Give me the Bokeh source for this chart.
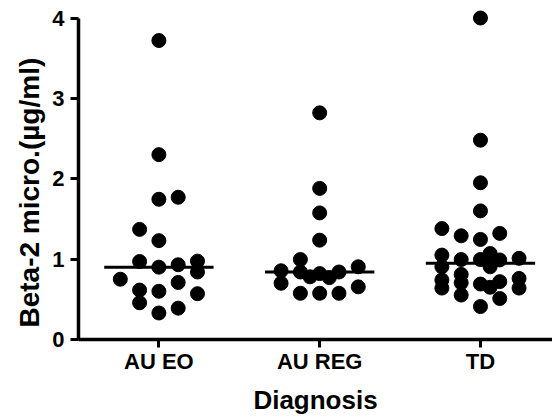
import numpy as np
from bokeh.plotting import figure
from bokeh.models import FixedTicker, Range1d, Title
from bokeh.embed import file_html
from bokeh.resources import INLINE

categories = ["AU EO", "AU REG", "TD"]

au_eo_values = [3.72, 2.30, 1.745, 1.77, 1.37, 1.23, 0.97, 0.90, 0.93, 0.975,
                0.84, 0.75, 0.71, 0.615, 0.60, 0.57, 0.457, 0.39, 0.33]
au_eo_slots = [0, 0, 0, 1, -1, 0, -1, 0, 1, 2,
               2, -2, 1, -1, 0, 2, -1, 1, 0]

au_reg_values = [2.82, 1.88, 1.575, 1.236, 0.995, 0.855, 0.84, 0.78, 0.82,
                 0.77, 0.84, 0.905, 0.70, 0.655, 0.575, 0.575, 0.575]
au_reg_slots = [0, 0, 0, 0, -1, -2, -1, -0.5, 0,
                0.5, 1, 2, -2, 2, -1, 0, 1]

td_values = [4.0, 2.48, 1.95, 1.60, 1.38, 1.29, 1.245, 1.32, 1.05, 1.07,
             0.995, 0.995, 0.99, 1.01, 0.905, 0.905, 0.81, 0.74, 0.705, 0.69,
             0.72, 0.76, 0.65, 0.64, 0.64, 0.553, 0.51, 0.41]
td_slots = [0, 0, 0, 0, -2, -1, 0, 1, -2, 0.5,
            -1, 0, 1, 2, -2, 0.5, -1, -2, -1, 0,
            1, 2, 0.5, -2, 2, -1, 1, 0]

y_ticks = [0, 1, 2, 3, 4]
y_label = "Beta-2 micro.(µg/ml)"
x_label = "Diagnosis"

groups = [(au_eo_values, au_eo_slots), (au_reg_values, au_reg_slots), (td_values, td_slots)]
SLOT = 0.12
HALF = 0.34

xs, ys = [], []
mx0, mx1, my = [], [], []
for i, (vals, slots) in enumerate(groups):
    c = i + 1
    for v, s in zip(vals, slots):
        xs.append(c + s * SLOT)
        ys.append(v)
    med = float(np.median(vals))
    mx0.append(c - HALF)
    mx1.append(c + HALF)
    my.append(med)

FONT = "Liberation Sans"

p = figure(width=552, height=417, output_backend="svg", toolbar_location=None,
           x_range=Range1d(0.5, 3.448), y_range=Range1d(0, 4.193),
           min_border_left=78, min_border_right=0, min_border_top=2, min_border_bottom=78)
p.background_fill_color = "white"
p.border_fill_color = "white"
p.outline_line_color = None
p.xgrid.visible = False
p.ygrid.visible = False

p.scatter(x=xs, y=ys, size=14, color="black")
p.segment(x0=mx0, x1=mx1, y0=my, y1=my, line_width=3, line_color="black")

for ax in (p.yaxis[0], p.xaxis[0]):
    ax.axis_line_width = 3.5
    ax.axis_line_color = "black"
    ax.major_tick_line_width = 3
    ax.major_tick_line_color = "black"
    ax.major_tick_out = 8
    ax.major_tick_in = 0
    ax.minor_tick_out = 0
    ax.minor_tick_in = 0
    ax.major_label_text_font = FONT
    ax.major_label_text_font_style = "bold"
    ax.major_label_text_font_size = "22px"
    ax.major_label_text_color = "black"
    ax.axis_label_text_font = FONT
    ax.axis_label_text_font_style = "bold"
    ax.axis_label_text_font_size = "26px"
    ax.axis_label_text_color = "black"

yax = p.yaxis[0]
yax.ticker = FixedTicker(ticks=y_ticks)
yax.bounds = (0, 4)
yax.major_label_standoff = 6

ytitle = Title(text=y_label, align="left", offset=12, standoff=10,
               text_font=FONT, text_font_style="bold", text_font_size="28px",
               text_color="black")
p.add_layout(ytitle, "left")

xax = p.xaxis[0]
xax.ticker = FixedTicker(ticks=[1, 2, 3])
xax.major_label_overrides = {1: categories[0], 2: categories[1], 3: categories[2]}
xax.major_label_standoff = 1
xax.axis_label = x_label
xax.axis_label_standoff = 8

open("out.html", "w").write(file_html(p, INLINE))
